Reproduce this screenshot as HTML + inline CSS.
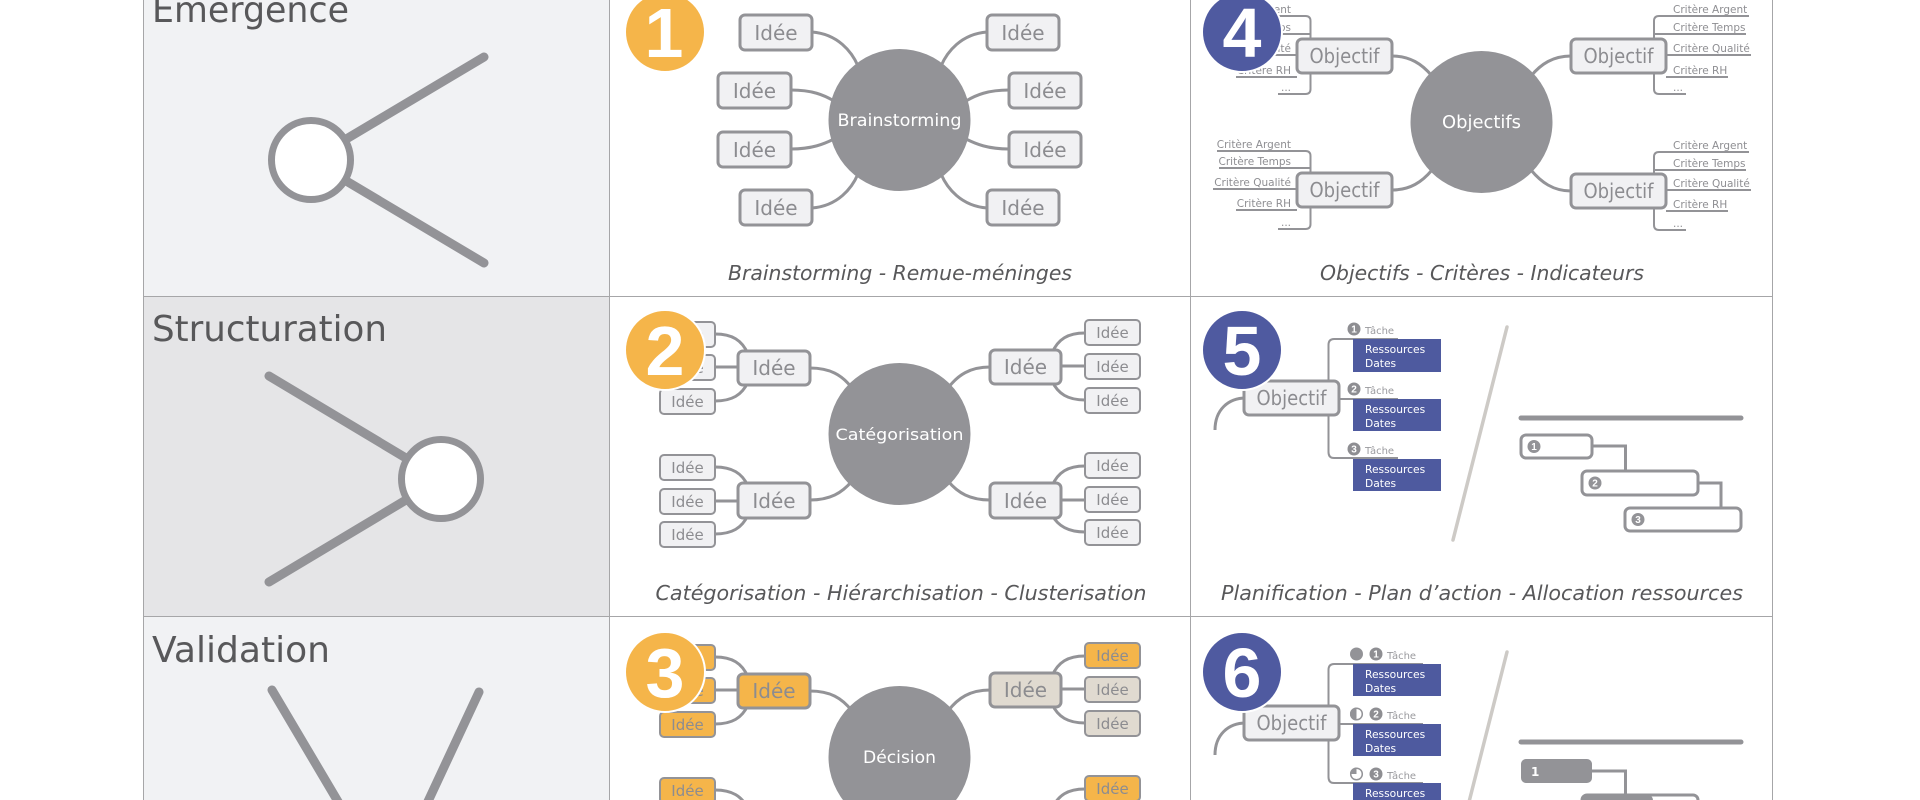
<!DOCTYPE html>
<html>
<head>
<meta charset="utf-8">
<style>
html,body{margin:0;padding:0;background:#fff;overflow:hidden;width:1920px;height:800px;}
svg{display:block;}
text{font-family:"DejaVu Sans","Liberation Sans",sans-serif;}
.ln{stroke:#939397;fill:none;stroke-width:3;}
.ln2{stroke:#939397;fill:none;stroke-width:2;}
.bx{fill:#f1f1f3;stroke:#939397;stroke-width:3;}
.sb{fill:#f1f1f3;stroke:#939397;stroke-width:2;}
.or{fill:#f5b54a;stroke:#939397;stroke-width:3;}
.sor{fill:#f5b54a;stroke:#939397;stroke-width:2;}
.be{fill:#e0dad0;stroke:#939397;stroke-width:3;}
.sbe{fill:#e0dad0;stroke:#939397;stroke-width:2;}
.it{fill:#8c8c90;font-size:20px;text-anchor:middle;}
.is{fill:#8c8c90;font-size:15px;text-anchor:middle;}
.cr{fill:#8e8e92;font-size:10.5px;}
.cap{fill:#58585a;font-size:20.5px;font-style:italic;text-anchor:middle;}
.ttl{fill:#58585a;font-size:36px;}
.bn{fill:#fff;font-family:"Liberation Sans",sans-serif;font-weight:bold;font-size:70px;text-anchor:middle;}
.ct{fill:#fff;text-anchor:middle;}
.tq{fill:#9a9a9e;font-size:10px;}
.rs{fill:#fff;font-size:10.7px;}
.nd{fill:#fff;font-family:"Liberation Sans",sans-serif;font-weight:bold;font-size:10px;text-anchor:middle;}
</style>
</head>
<body>
<svg width="1920" height="800" viewBox="0 0 1920 800" xmlns="http://www.w3.org/2000/svg" overflow="hidden">
<defs><clipPath id="cp"><rect x="0" y="0" width="1920" height="800"/></clipPath></defs>
<g clip-path="url(#cp)">
<!-- left column backgrounds -->
<rect x="143" y="-23" width="466" height="319" fill="#f1f2f4"/>
<rect x="143" y="296" width="466" height="320" fill="#e5e5e7"/>
<rect x="143" y="616" width="466" height="184" fill="#f1f2f4"/>
<!-- grid lines -->
<g stroke="#a6a6a8" stroke-width="1">
<line x1="143.5" y1="0" x2="143.5" y2="800"/>
<line x1="609.5" y1="0" x2="609.5" y2="800"/>
<line x1="1190.5" y1="0" x2="1190.5" y2="800"/>
<line x1="1772.5" y1="0" x2="1772.5" y2="800"/>
<line x1="143" y1="296.5" x2="1772" y2="296.5"/>
<line x1="143" y1="616.5" x2="1772" y2="616.5"/>
</g>

<!-- left titles -->
<text class="ttl" x="152" y="22" textLength="197" lengthAdjust="spacingAndGlyphs">Emergence</text>
<text class="ttl" x="152" y="341" textLength="235" lengthAdjust="spacingAndGlyphs">Structuration</text>
<text class="ttl" x="152" y="662" textLength="178" lengthAdjust="spacingAndGlyphs">Validation</text>

<!-- left icons -->
<g stroke="#939397" stroke-width="9" stroke-linecap="round" fill="none">
<line x1="484" y1="57" x2="311" y2="160"/>
<line x1="484" y1="263" x2="311" y2="160"/>
<line x1="269" y1="376" x2="441" y2="479"/>
<line x1="269" y1="582" x2="441" y2="479"/>
<line x1="272" y1="690" x2="343" y2="810"/>
<line x1="479" y1="692" x2="424" y2="810"/>
</g>
<circle cx="311" cy="160" r="39.5" fill="#fff" stroke="#939397" stroke-width="7"/>
<circle cx="441" cy="479" r="39.5" fill="#fff" stroke="#939397" stroke-width="7"/>

<!-- ===== Col2 Row1: Brainstorming ===== -->
<g class="ln">
<path d="M812,32 C838,34 852,52 858,66"/>
<path d="M791,90 C812,90 824,95 834,101"/>
<path d="M791,149 C812,149 824,144 834,139"/>
<path d="M812,208 C838,206 852,188 858,174"/>
<path d="M987,32 C961,34 947,52 941,66"/>
<path d="M1009,90 C988,90 976,95 966,101"/>
<path d="M1009,149 C988,149 976,144 966,139"/>
<path d="M987,208 C961,206 947,188 941,174"/>
</g>
<circle cx="899.5" cy="120" r="71" fill="#939397"/>
<text class="ct" x="899.5" y="126" font-size="17" textLength="124" lengthAdjust="spacingAndGlyphs">Brainstorming</text>
<g>
<rect class="bx" x="740" y="15" width="72" height="35" rx="5"/><text class="it" x="776" y="40">Idée</text>
<rect class="bx" x="718" y="73" width="73" height="35" rx="5"/><text class="it" x="754.5" y="98">Idée</text>
<rect class="bx" x="718" y="132" width="73" height="35" rx="5"/><text class="it" x="754.5" y="157">Idée</text>
<rect class="bx" x="740" y="190" width="72" height="35" rx="5"/><text class="it" x="776" y="215">Idée</text>
<rect class="bx" x="987" y="15" width="72" height="35" rx="5"/><text class="it" x="1023" y="40">Idée</text>
<rect class="bx" x="1009" y="73" width="72" height="35" rx="5"/><text class="it" x="1045" y="98">Idée</text>
<rect class="bx" x="1009" y="132" width="72" height="35" rx="5"/><text class="it" x="1045" y="157">Idée</text>
<rect class="bx" x="987" y="190" width="72" height="35" rx="5"/><text class="it" x="1023" y="215">Idée</text>
</g>
<text class="cap" x="900" y="280" textLength="344" lengthAdjust="spacingAndGlyphs">Brainstorming - Remue-méninges</text>

<!-- ===== Col3 Row1: Objectifs ===== -->
<g class="ln2">
<path d="M1749,16 H1659 Q1654,16 1654,21 V89 Q1654,94 1659,94 H1686"/>
<path d="M1654,34 H1746"/><path d="M1666,55 H1751"/><path d="M1666,77 H1728"/>
<path d="M1749,152 H1659 Q1654,152 1654,157 V225 Q1654,230 1659,230 H1686"/>
<path d="M1654,170 H1746"/><path d="M1666,190 H1751"/><path d="M1666,211 H1728"/>
<path d="M1217,16 H1305.5 Q1310.5,16 1310.5,21 V89 Q1310.5,94 1305.5,94 H1278"/>
<path d="M1219,34 H1310.5"/><path d="M1213,55 H1297"/><path d="M1236,77 H1297"/>
<path d="M1217,151 H1305.5 Q1310.5,151 1310.5,156 V224 Q1310.5,229 1305.5,229 H1278"/>
<path d="M1219,168 H1310.5"/><path d="M1213,189 H1297"/><path d="M1236,210 H1297"/>
</g>
<g class="cr">
<text x="1673" y="13">Critère Argent</text>
<text x="1673" y="31">Critère Temps</text>
<text x="1673" y="52">Critère Qualité</text>
<text x="1673" y="74">Critère RH</text>
<text x="1673" y="91">...</text>
<text x="1673" y="149">Critère Argent</text>
<text x="1673" y="167">Critère Temps</text>
<text x="1673" y="187">Critère Qualité</text>
<text x="1673" y="208">Critère RH</text>
<text x="1673" y="227">...</text>
</g>
<g class="cr" text-anchor="end">
<text x="1291" y="13">Critère Argent</text>
<text x="1291" y="31">Critère Temps</text>
<text x="1291" y="52">Critère Qualité</text>
<text x="1291" y="74">Critère RH</text>
<text x="1291" y="91">...</text>
<text x="1291" y="148">Critère Argent</text>
<text x="1291" y="165">Critère Temps</text>
<text x="1291" y="186">Critère Qualité</text>
<text x="1291" y="207">Critère RH</text>
<text x="1291" y="226">...</text>
</g>
<g class="ln">
<path d="M1392,56 C1410,56 1422,64 1432,76"/>
<path d="M1571,56 C1553,56 1541,64 1531,76"/>
<path d="M1392,190 C1410,190 1422,182 1432,170"/>
<path d="M1571,191 C1553,191 1541,182 1531,170"/>
</g>
<circle cx="1481.5" cy="122" r="71" fill="#939397"/>
<text class="ct" x="1481.5" y="128" font-size="18" textLength="79" lengthAdjust="spacingAndGlyphs">Objectifs</text>
<rect class="bx" x="1297" y="39" width="95" height="34" rx="5"/><text class="it" x="1344.5" y="63" font-size="18.5" textLength="70" lengthAdjust="spacingAndGlyphs">Objectif</text>
<rect class="bx" x="1571" y="39" width="95" height="34" rx="5"/><text class="it" x="1618.5" y="63" font-size="18.5" textLength="70" lengthAdjust="spacingAndGlyphs">Objectif</text>
<rect class="bx" x="1297" y="173" width="95" height="34" rx="5"/><text class="it" x="1344.5" y="197" font-size="18.5" textLength="70" lengthAdjust="spacingAndGlyphs">Objectif</text>
<rect class="bx" x="1571" y="174" width="95" height="34" rx="5"/><text class="it" x="1618.5" y="198" font-size="18.5" textLength="70" lengthAdjust="spacingAndGlyphs">Objectif</text>
<text class="cap" x="1482" y="280" textLength="324" lengthAdjust="spacingAndGlyphs">Objectifs - Critères - Indicateurs</text>

<!-- ===== Col2 Row2: Catégorisation ===== -->
<g class="ln">
<path d="M715,334 C732,334 742,340 748,354"/>
<path d="M715,367 H740"/>
<path d="M715,401 C732,401 742,395 748,382"/>
<path d="M1085,333 C1068,333 1058,339 1052,353"/>
<path d="M1085,366 H1059"/>
<path d="M1085,400 C1068,400 1058,394 1052,381"/>
<path d="M715,467 C732,467 742,473 748,486"/>
<path d="M715,501 H740"/>
<path d="M715,534 C732,534 742,528 748,515"/>
<path d="M1085,466 C1068,466 1058,472 1052,486"/>
<path d="M1085,500 H1059"/>
<path d="M1085,532 C1068,532 1058,526 1052,515"/>
<path d="M810,368 C830,368 842,375 852,388"/>
<path d="M990,367 C970,367 958,375 948,388"/>
<path d="M810,500 C830,500 842,493 852,481"/>
<path d="M990,500 C970,500 958,493 948,481"/>
</g>
<circle cx="899.5" cy="434" r="71" fill="#939397"/>
<text class="ct" x="899.5" y="440" font-size="16" textLength="128" lengthAdjust="spacingAndGlyphs">Catégorisation</text>
<rect class="bx" x="738" y="351" width="72" height="34" rx="5"/><text class="it" x="774" y="375">Idée</text>
<rect class="bx" x="990" y="350" width="71" height="34" rx="5"/><text class="it" x="1025.5" y="374">Idée</text>
<rect class="bx" x="738" y="483" width="72" height="35" rx="5"/><text class="it" x="774" y="508">Idée</text>
<rect class="bx" x="990" y="483" width="71" height="35" rx="5"/><text class="it" x="1025.5" y="508">Idée</text>
<g>
<rect class="sb" x="660" y="322" width="55" height="25" rx="4"/><text class="is" x="687.5" y="340">Idée</text>
<rect class="sb" x="660" y="355" width="55" height="25" rx="4"/><text class="is" x="687.5" y="373">Idée</text>
<rect class="sb" x="660" y="389" width="55" height="25" rx="4"/><text class="is" x="687.5" y="407">Idée</text>
<rect class="sb" x="660" y="455" width="55" height="25" rx="4"/><text class="is" x="687.5" y="473">Idée</text>
<rect class="sb" x="660" y="489" width="55" height="25" rx="4"/><text class="is" x="687.5" y="507">Idée</text>
<rect class="sb" x="660" y="522" width="55" height="25" rx="4"/><text class="is" x="687.5" y="540">Idée</text>
<rect class="sb" x="1085" y="320" width="55" height="25" rx="4"/><text class="is" x="1112.5" y="338">Idée</text>
<rect class="sb" x="1085" y="354" width="55" height="25" rx="4"/><text class="is" x="1112.5" y="372">Idée</text>
<rect class="sb" x="1085" y="388" width="55" height="25" rx="4"/><text class="is" x="1112.5" y="406">Idée</text>
<rect class="sb" x="1085" y="453" width="55" height="25" rx="4"/><text class="is" x="1112.5" y="471">Idée</text>
<rect class="sb" x="1085" y="487" width="55" height="25" rx="4"/><text class="is" x="1112.5" y="505">Idée</text>
<rect class="sb" x="1085" y="520" width="55" height="25" rx="4"/><text class="is" x="1112.5" y="538">Idée</text>
</g>
<text class="cap" x="901" y="600" textLength="491" lengthAdjust="spacingAndGlyphs">Catégorisation - Hiérarchisation - Clusterisation</text>

<!-- ===== Col3 Row2: Planification ===== -->
<path class="ln" d="M1215,430 C1215,410 1228,398 1246,398"/>
<g class="ln2" stroke-width="2.5">
<path d="M1398,339 H1334 Q1328.5,339 1328.5,345 V452 Q1328.5,458 1334,458 H1398"/>
<path d="M1339,399 H1398"/>
</g>
<rect class="bx" x="1244" y="381" width="95" height="34" rx="5"/><text class="it" x="1291.5" y="405" font-size="18.5" textLength="70" lengthAdjust="spacingAndGlyphs">Objectif</text>
<g>
<circle cx="1354" cy="329" r="6.5" fill="#8e8e92"/><text class="nd" x="1354" y="332.5">1</text>
<circle cx="1354" cy="389" r="6.5" fill="#8e8e92"/><text class="nd" x="1354" y="392.5">2</text>
<circle cx="1354" cy="449" r="6.5" fill="#8e8e92"/><text class="nd" x="1354" y="452.5">3</text>
<text class="tq" x="1365" y="334">Tâche</text>
<text class="tq" x="1365" y="394">Tâche</text>
<text class="tq" x="1365" y="454">Tâche</text>
<rect x="1353" y="339" width="88" height="33" fill="#4e5a9f"/>
<rect x="1353" y="399" width="88" height="32" fill="#4e5a9f"/>
<rect x="1353" y="459" width="88" height="32" fill="#4e5a9f"/>
<text class="rs" x="1365" y="353">Ressources</text><text class="rs" x="1365" y="367">Dates</text>
<text class="rs" x="1365" y="413">Ressources</text><text class="rs" x="1365" y="427">Dates</text>
<text class="rs" x="1365" y="473">Ressources</text><text class="rs" x="1365" y="487">Dates</text>
</g>
<line x1="1507" y1="327" x2="1453" y2="540" stroke="#cdcac6" stroke-width="3.5" stroke-linecap="round"/>
<line x1="1521" y1="418" x2="1741" y2="418" stroke="#939397" stroke-width="5" stroke-linecap="round"/>
<path class="ln" d="M1592,446 H1625.5 V471"/>
<path class="ln" d="M1698,483 H1721 V508"/>
<rect x="1521" y="435" width="71" height="23" rx="5" fill="#fff" stroke="#939397" stroke-width="3"/>
<rect x="1582" y="471" width="116" height="24" rx="5" fill="#fff" stroke="#939397" stroke-width="3"/>
<rect x="1625" y="508" width="116" height="23" rx="5" fill="#fff" stroke="#939397" stroke-width="3"/>
<circle cx="1534" cy="446.5" r="6.5" fill="#939397"/><text class="nd" x="1534" y="450">1</text>
<circle cx="1595" cy="483" r="6.5" fill="#939397"/><text class="nd" x="1595" y="486.5">2</text>
<circle cx="1638" cy="519.5" r="6.5" fill="#939397"/><text class="nd" x="1638" y="523">3</text>
<text class="cap" x="1482" y="600" textLength="522" lengthAdjust="spacingAndGlyphs">Planification - Plan d’action - Allocation ressources</text>

<!-- ===== Col2 Row3: Décision ===== -->
<g class="ln">
<path d="M715,657 C732,657 742,663 748,677"/>
<path d="M715,690 H740"/>
<path d="M715,724 C732,724 742,718 748,705"/>
<path d="M1085,656 C1068,656 1058,662 1052,676"/>
<path d="M1085,689 H1059"/>
<path d="M1085,723 C1068,723 1058,717 1052,704"/>
<path d="M715,790 C732,790 742,796 748,809"/>
<path d="M1085,789 C1068,789 1058,795 1052,809"/>
<path d="M810,691 C830,691 842,698 852,711"/>
<path d="M990,690 C970,690 958,698 948,711"/>
</g>
<circle cx="899.5" cy="757" r="71" fill="#939397"/>
<text class="ct" x="899.5" y="763" font-size="17" textLength="73" lengthAdjust="spacingAndGlyphs">Décision</text>
<rect class="or" x="738" y="674" width="72" height="34" rx="5"/><text class="it" x="774" y="698" fill="#8e8a86">Idée</text>
<rect class="be" x="990" y="673" width="71" height="34" rx="5"/><text class="it" x="1025.5" y="697">Idée</text>
<g>
<rect class="sor" x="660" y="645" width="55" height="25" rx="4"/><text class="is" x="687.5" y="663">Idée</text>
<rect class="sor" x="660" y="678" width="55" height="25" rx="4"/><text class="is" x="687.5" y="696">Idée</text>
<rect class="sor" x="660" y="712" width="55" height="25" rx="4"/><text class="is" x="687.5" y="730">Idée</text>
<rect class="sor" x="660" y="778" width="55" height="25" rx="4"/><text class="is" x="687.5" y="796">Idée</text>
<rect class="sor" x="1085" y="643" width="55" height="25" rx="4"/><text class="is" x="1112.5" y="661">Idée</text>
<rect class="sbe" x="1085" y="677" width="55" height="25" rx="4"/><text class="is" x="1112.5" y="695">Idée</text>
<rect class="sbe" x="1085" y="711" width="55" height="25" rx="4"/><text class="is" x="1112.5" y="729">Idée</text>
<rect class="sor" x="1085" y="776" width="55" height="25" rx="4"/><text class="is" x="1112.5" y="794">Idée</text>
</g>

<!-- ===== Col3 Row3 ===== -->
<path class="ln" d="M1215,755 C1215,735 1228,723 1246,723"/>
<g class="ln2" stroke-width="2.5">
<path d="M1423,664 H1334 Q1328.5,664 1328.5,670 V777 Q1328.5,783 1334,783 H1423"/>
<path d="M1339,724 H1423"/>
</g>
<rect class="bx" x="1244" y="706" width="95" height="34" rx="5"/><text class="it" x="1291.5" y="730" font-size="18.5" textLength="70" lengthAdjust="spacingAndGlyphs">Objectif</text>
<g>
<circle cx="1356.5" cy="654" r="6.5" fill="#939397"/>
<circle cx="1356.5" cy="714" r="5.8" fill="#fff" stroke="#939397" stroke-width="1.5"/>
<path d="M1356.5,707.5 A6.5,6.5 0 0 0 1356.5,720.5 Z" fill="#939397"/>
<circle cx="1356.5" cy="774" r="5.8" fill="#fff" stroke="#939397" stroke-width="1.5"/>
<path d="M1356.5,774 V767.5 A6.5,6.5 0 0 0 1350,774 Z" fill="#939397"/>
<circle cx="1376" cy="654" r="6.5" fill="#8e8e92"/><text class="nd" x="1376" y="657.5">1</text>
<circle cx="1376" cy="714" r="6.5" fill="#8e8e92"/><text class="nd" x="1376" y="717.5">2</text>
<circle cx="1376" cy="774" r="6.5" fill="#8e8e92"/><text class="nd" x="1376" y="777.5">3</text>
<text class="tq" x="1387" y="659">Tâche</text>
<text class="tq" x="1387" y="719">Tâche</text>
<text class="tq" x="1387" y="779">Tâche</text>
<rect x="1353" y="664" width="88" height="32" fill="#4e5a9f"/>
<rect x="1353" y="724" width="88" height="32" fill="#4e5a9f"/>
<rect x="1353" y="783" width="88" height="17" fill="#4e5a9f"/>
<text class="rs" x="1365" y="678">Ressources</text><text class="rs" x="1365" y="692">Dates</text>
<text class="rs" x="1365" y="738">Ressources</text><text class="rs" x="1365" y="752">Dates</text>
<text class="rs" x="1365" y="797">Ressources</text>
</g>
<line x1="1507" y1="652" x2="1469.5" y2="800" stroke="#cdcac6" stroke-width="3.5" stroke-linecap="round"/>
<line x1="1521" y1="742" x2="1741" y2="742" stroke="#939397" stroke-width="5" stroke-linecap="round"/>
<path class="ln" d="M1592,771 H1625.5 V797"/>
<rect x="1521" y="759" width="71" height="24" rx="5" fill="#939397"/>
<text x="1531" y="776" fill="#fff" font-family="Liberation Sans, sans-serif" font-weight="bold" font-size="12">1</text>
<rect x="1582" y="795" width="116" height="24" rx="5" fill="#fff" stroke="#939397" stroke-width="3"/>
<rect x="1582" y="795" width="71" height="24" rx="5" fill="#939397"/>

<!-- ===== Badges ===== -->
<g stroke="#fff" stroke-width="2">
<circle cx="665" cy="32" r="40" fill="#f5b54a"/>
<circle cx="665" cy="350" r="40" fill="#f5b54a"/>
<circle cx="665" cy="672" r="40" fill="#f5b54a"/>
<circle cx="1242" cy="32" r="40" fill="#4f5aa0"/>
<circle cx="1242" cy="350" r="40" fill="#4f5aa0"/>
<circle cx="1242" cy="672" r="40" fill="#4f5aa0"/>
</g>
<text class="bn" x="664" y="57">1</text>
<text class="bn" x="665" y="375">2</text>
<text class="bn" x="665" y="697">3</text>
<text class="bn" x="1242" y="57">4</text>
<text class="bn" x="1242" y="375">5</text>
<text class="bn" x="1242" y="697">6</text>
</g>
</svg>
</body>
</html>
